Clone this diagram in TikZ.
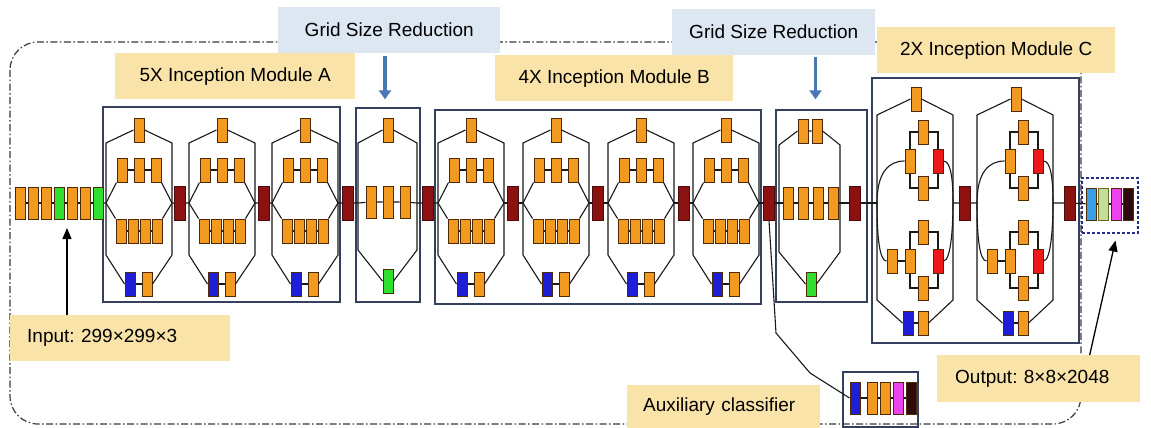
\documentclass[tikz,border=0pt]{standalone}
\usepackage{fontspec}
\setmainfont{Liberation Sans}
\usetikzlibrary{arrows.meta,positioning}
\definecolor{icOrange}{HTML}{F29A1F}
\definecolor{icEdge}{HTML}{4E2A06}
\definecolor{icConcat}{HTML}{8C1212}
\definecolor{icBlue}{HTML}{1E1ED6}
\definecolor{icGreen}{HTML}{30E030}
\definecolor{icRed}{HTML}{EE1818}
\definecolor{icSky}{HTML}{3A9EE4}
\definecolor{icLime}{HTML}{C2DE9A}
\definecolor{icPink}{HTML}{EC44EC}
\definecolor{icDark}{HTML}{2E0A0A}
\definecolor{icFrame}{HTML}{34405E}
\definecolor{icNavy}{HTML}{22308A}
\definecolor{icTag}{HTML}{F9E3A8}
\definecolor{icNote}{HTML}{DDE7F2}
\definecolor{icArrow}{HTML}{4A78B5}
\definecolor{icMute}{HTML}{3A3A3A}
\tikzset{
  layer/.style={
    draw=icEdge, fill=icOrange, line width=1pt, inner sep=0pt,
    minimum width=10pt, minimum height=24pt
  },
  tall/.style={layer, minimum height=32pt},
  concat/.style={layer, fill=icConcat, draw=icConcat!55!black, minimum width=11pt, minimum height=34pt},
  frame/.style={draw=icFrame, line width=1.3pt, inner sep=0pt},
  outframe/.style={draw=icNavy, line width=1.4pt, dash pattern=on 3pt off 2pt, inner sep=0pt},
  wire/.style={draw=black!90, line width=1.1pt},
  tag/.style={fill=icTag, inner sep=0pt, minimum height=46pt, anchor=north west, font=\fontsize{19}{22}\selectfont\frenchspacing},
  note/.style={tag, fill=icNote},
  gsr/.style={-{Triangle[length=9pt,width=12pt]}, line width=3.5pt, icArrow},
  pointer/.style={-{Triangle[length=11pt,width=9pt]}, line width=1.3pt, black},
  boundary/.style={icMute, line width=1.2pt, rounded corners=28pt, dash pattern=on 7pt off 2.5pt on 1.5pt off 2.5pt}
}
\begin{document}
\begin{tikzpicture}[x=1pt, y=-1pt]
  \fill[white, use as bounding box] (0,0) rectangle (1151,428);
  \draw[boundary] (10,42) rectangle (1081,424);

  \node[frame, minimum width=237pt, minimum height=195pt] (fA) at (221.5,204.5) {};
  \node[frame, minimum width=64pt, minimum height=194pt] (fG1) at (388,205) {};
  \node[frame, minimum width=326pt, minimum height=194pt] (fB) at (598,207) {};
  \node[frame, minimum width=91pt, minimum height=192pt] (fG2) at (821.5,206) {};
  \node[frame, minimum width=207pt, minimum height=265pt] (fC) at (975.5,210.5) {};
  \node[frame, minimum width=75pt, minimum height=55pt] (fX) at (880.5,399.5) {};
  \node[outframe, minimum width=56pt, minimum height=55pt] (fOut) at (1110,205.5) {};

  \node[note, minimum width=222pt] (noteA) at (278,7) {Grid Size Reduction};
  \node[note, minimum width=203pt] (noteB) at (672,9) {Grid Size Reduction};
  \node[tag, minimum width=240pt] (tagA) at (115,53) {5X Inception Module A};
  \node[tag, minimum width=238pt] (tagB) at (495,55) {4X Inception Module B};
  \node[tag, minimum width=238pt] (tagC) at (877,27) {2X Inception Module C};
  \node[tag, text width=186pt, inner xsep=17pt, align=left] (inTag) at (10,315) {Input: 299×299×3};
  \node[tag, text width=167pt, inner xsep=18pt, align=left, minimum height=47pt] (outTag) at (937,355) {Output: 8×8×2048};
  \node[tag, text width=161pt, inner xsep=16pt, align=left, minimum height=43pt] (auxTag) at (627,385) {Auxiliary classifier};

  \node[tall] (s1) at (20,203) {};
  \foreach \col [count=\i from 2] in {icOrange,icOrange,icGreen,icOrange,icOrange,icGreen}{
    \pgfmathtruncatemacro\j{\i-1}
    \node[tall, fill=\col, right=2pt of s\j] (s\i) {};
  }
  \draw[wire] (s1) -- (s2) -- (s3) -- (s4) -- (s5) -- (s6) -- (s7);

  \foreach \L [count=\i] in {106,189,272,438,523,608,693}{
    \coordinate (m\i-in) at (\L,203);
    \coordinate (m\i-out) at ({\L+66},203);
    \node[layer] (m\i-t) at ({\L+33},130) {};
    \node[layer] (m\i-a1) at ({\L+16},170) {};
    \node[layer] (m\i-a2) at ({\L+33},170) {};
    \node[layer] (m\i-a3) at ({\L+50},170) {};
    \foreach \k/\dx in {1/15,2/27,3/39,4/51}
      \node[layer] (m\i-b\k) at ({\L+\dx},231) {};
    \node[layer, fill=icBlue] (m\i-p) at ({\L+24},284) {};
    \node[layer] (m\i-q) at ({\L+41},284) {};
    \draw[wire] (m\i-in) -- (\L,143) -- (m\i-t.west) (m\i-t.east) -- ({\L+66},143) -- (m\i-out) -- ({\L+66},255) -- (m\i-q.east) (m\i-p.west) -- (\L,255) -- (m\i-in);
    \draw[wire] (m\i-in) -- (m\i-a1.south west) (m\i-a3.south east) -- (m\i-out) (m\i-in) -- (m\i-b1.north west) (m\i-b4.north east) -- (m\i-out);
    \draw[wire] (m\i-a1) -- (m\i-a2) -- (m\i-a3) (m\i-b1) -- (m\i-b2) -- (m\i-b3) -- (m\i-b4) (m\i-p) -- (m\i-q);
  }

  \coordinate (g1-in) at (358,203);
  \coordinate (g1-out) at (417,203);
  \node[layer] (g1-t) at (388,130) {};
  \foreach \k/\x in {1/371,2/388,3/405}
    \node[tall] (g1-m\k) at (\x,202) {};
  \node[layer, fill=icGreen] (g1-b) at (388,281) {};
  \draw[wire] (g1-in) -- (358,143) -- (g1-t.west) (g1-t.east) -- (417,143) -- (g1-out) -- (417,250) -- (g1-b.east) (g1-b.west) -- (358,250) -- (g1-in);

  \coordinate (g2-in) at (779,203);
  \coordinate (g2-out) at (840,203);
  \node[layer] (g2-t1) at (803,131) {};
  \node[layer] (g2-t2) at (817,131) {};
  \foreach \k/\x in {1/788,2/803,3/818,4/833}
    \node[tall] (g2-m\k) at (\x,203) {};
  \node[layer, fill=icGreen] (g2-b) at (811,284) {};
  \draw[wire] (g2-in) -- (779,145) -- (g2-t1.west) (g2-t1) -- (g2-t2) (g2-t2.east) -- (840,145) -- (g2-out) -- (840,252) -- (g2-b.east) (g2-b.west) -- (779,252) -- (g2-in);

  \foreach \L [count=\i] in {877,977}{
    \coordinate (c\i-in) at (\L,203);
    \coordinate (c\i-out) at ({\L+76},203);
    \node[layer] (c\i-t) at ({\L+39},99) {};
    \node[layer] (c\i-ul) at ({\L+33},161) {};
    \node[layer] (c\i-uu) at ({\L+46},132) {};
    \node[layer] (c\i-ud) at ({\L+46},188) {};
    \node[layer, fill=icRed] (c\i-ur) at ({\L+61},161) {};
    \node[layer] (c\i-lf) at ({\L+15},261) {};
    \node[layer] (c\i-ll) at ({\L+33},261) {};
    \node[layer] (c\i-lu) at ({\L+46},232) {};
    \node[layer] (c\i-ld) at ({\L+46},288) {};
    \node[layer, fill=icRed] (c\i-lr) at ({\L+61},261) {};
    \node[layer, fill=icBlue] (c\i-p) at ({\L+31},323) {};
    \node[layer] (c\i-q) at ({\L+46},323) {};
    \draw[wire] (c\i-in) -- (\L,115) -- (c\i-t.west) (c\i-t.east) -- ({\L+76},115) -- ({\L+76},300) -- (c\i-q.east) (c\i-p.west) -- (\L,300) -- (c\i-in);
    \draw[wire] (c\i-in) .. controls (\L,172) and ({\L+12},161) .. (c\i-ul.west);
    \draw[wire] (c\i-in) .. controls (\L,240) and ({\L+3},261) .. (c\i-lf.west);
    \draw[wire] (c\i-ur.east) .. controls ({\L+74},161) and ({\L+76},180) .. (c\i-out);
    \draw[wire] (c\i-lr.east) .. controls ({\L+74},261) and ({\L+76},226) .. (c\i-out);
    \draw[wire] (c\i-ul.north) |- (c\i-uu.west) (c\i-ul.south) |- (c\i-ud.west) (c\i-uu.east) -| (c\i-ur.north) (c\i-ud.east) -| (c\i-ur.south);
    \draw[wire] (c\i-ll.north) |- (c\i-lu.west) (c\i-ll.south) |- (c\i-ld.west) (c\i-lu.east) -| (c\i-lr.north) (c\i-ld.east) -| (c\i-lr.south);
    \draw[wire] (c\i-lf) -- (c\i-ll) (c\i-p) -- (c\i-q);
  }

  \foreach \x [count=\i] in {180,264,348,428,513,598,684,769,855,965,1070}
    \node[concat] (k\i) at (\x,203) {};

  \node[tall, fill=icSky] (o1) at (1091,204) {};
  \node[tall, fill=icLime, draw=olive!70!black, right=1.6pt of o1] (o2) {};
  \node[tall, fill=icPink, right=1.6pt of o2] (o3) {};
  \node[tall, fill=icDark, right=1.6pt of o3] (o4) {};
  \draw[wire] (o1) -- (o2) -- (o3) -- (o4);

  \node[tall, fill=icBlue] (x1) at (855,398) {};
  \node[tall, right=6pt of x1] (x2) {};
  \node[tall, right=2pt of x2] (x3) {};
  \node[tall, fill=icPink, right=2pt of x3] (x4) {};
  \node[tall, fill=icDark, right=2pt of x4] (x5) {};
  \draw[wire] (x1) -- (x2) -- (x3) -- (x4) -- (x5);

  \draw[wire] (s7) -- (m1-in) (m1-out) -- (k1) -- (m2-in) (m2-out) -- (k2) -- (m3-in) (m3-out) -- (k3) -- (g1-in) -- (g1-m1) -- (g1-m2) -- (g1-m3) -- (g1-out) -- (k4) -- (m4-in);
  \draw[wire] (m4-out) -- (k5) -- (m5-in) (m5-out) -- (k6) -- (m6-in) (m6-out) -- (k7) -- (m7-in) (m7-out) -- (k8) -- (g2-in) -- (g2-m1) -- (g2-m2) -- (g2-m3) -- (g2-m4) -- (g2-out) -- (k9) -- (c1-in);
  \draw[wire] (c1-out) -- (k10) -- (c2-in) (c2-out) -- (k11) -- (o1);

  \coordinate (xb1) at (776,333);
  \coordinate (xb2) at (810,373);
  \draw[wire] (k8.south) -- (xb1) -- (xb2) -- (x1.west);

  \coordinate (gA) at ([xshift=-3pt]fG1.north);
  \coordinate (gB) at ([xshift=-6pt]fG2.north);
  \draw[gsr, shorten <=3pt, shorten >=8pt] (noteA.south -| gA) -- (gA);
  \draw[gsr, shorten <=2pt, shorten >=10pt] (noteB.south -| gB) -- (gB);
  \coordinate (inTip) at (67,219);
  \draw[pointer, shorten >=9pt] (inTag.north -| inTip) -- (inTip);
  \draw[pointer, shorten >=7pt] ([xshift=51pt]outTag.north) -- ([xshift=7pt]fOut.south);
\end{tikzpicture}
\end{document}
